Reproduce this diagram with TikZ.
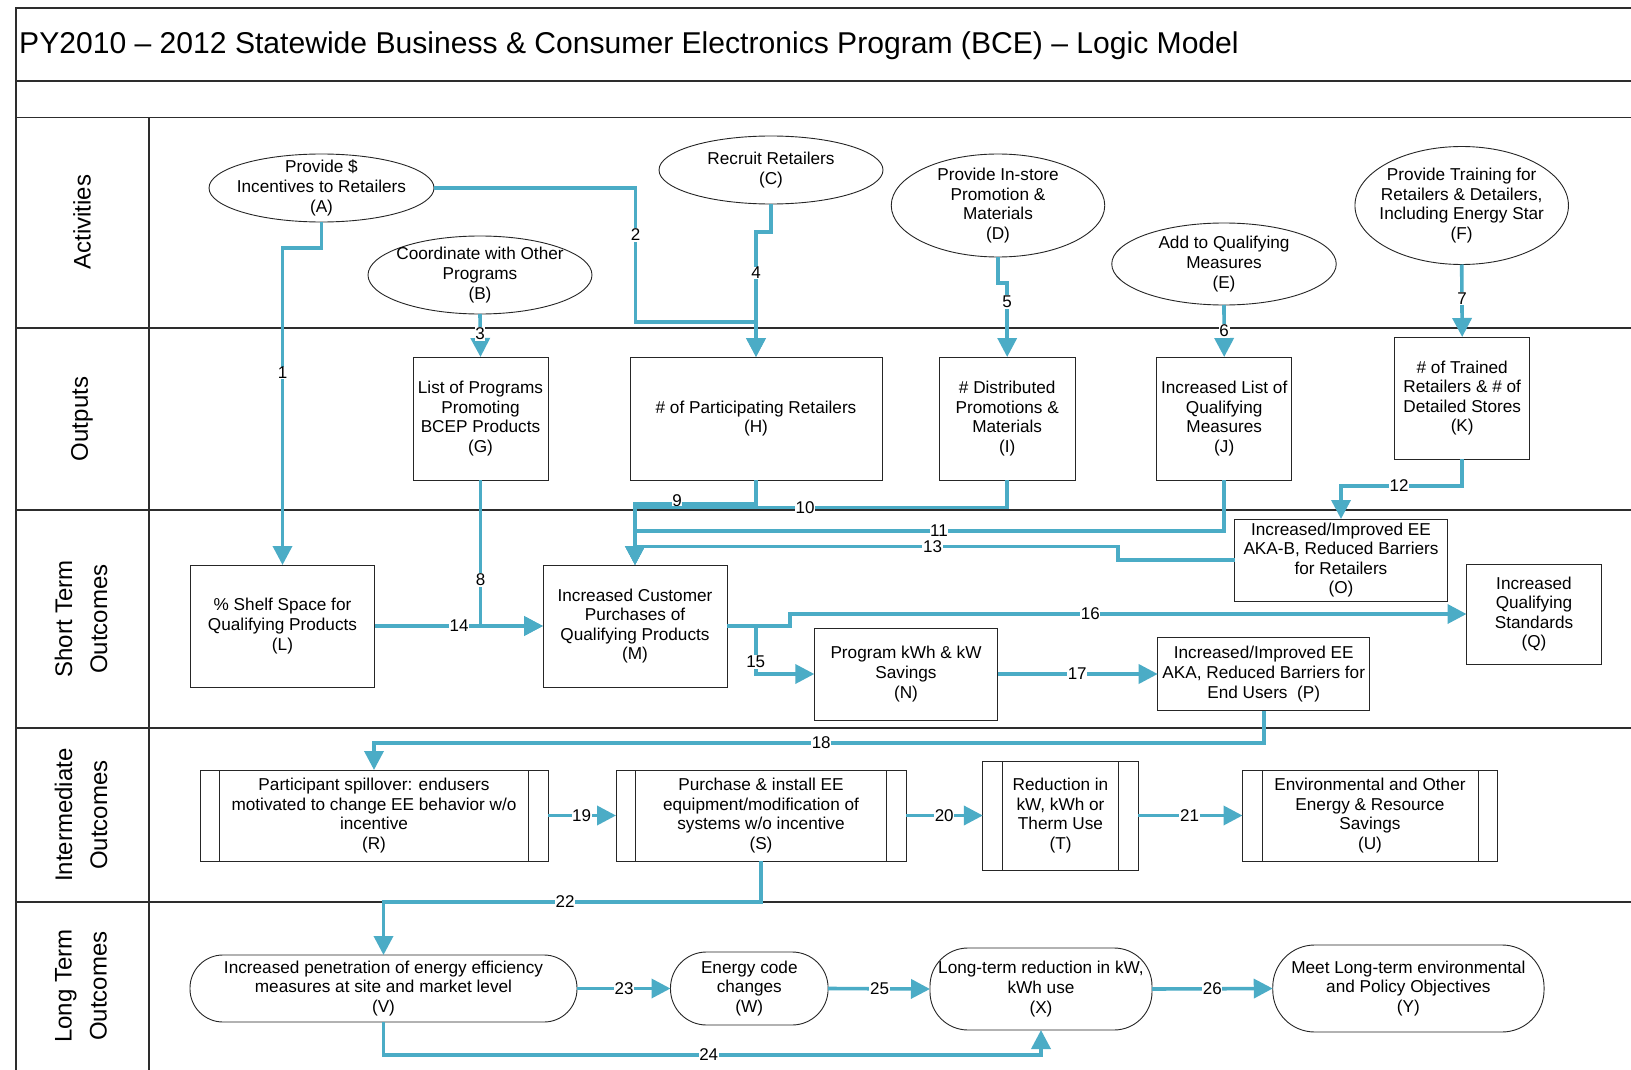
\documentclass[tikz,border=0pt]{standalone}
\usepackage{fontspec}
\setmainfont{Liberation Sans}
\usetikzlibrary{arrows.meta,shapes.geometric}
\definecolor{connc}{RGB}{75,172,198}
\definecolor{framec}{RGB}{45,45,45}
\newcommand{\boxtxtfont}{\fontsize{17.2}{19.6}\selectfont}
\newcommand{\lanetxtfont}{\fontsize{24}{35}\selectfont}
\newcommand{\lbltxtfont}{\fontsize{17}{17}\selectfont}
\begin{document}
\begin{tikzpicture}[x=1pt,y=-1pt,
  frameline/.style={draw=framec,line width=1.6pt},
  boxnode/.style={rectangle,draw=black!85,line width=0.9pt,align=center,inner sep=1pt,outer sep=0pt,font=\boxtxtfont},
  ellnode/.style={ellipse,draw=black!85,line width=0.9pt,inner sep=0pt,outer sep=0pt},
  stadium/.style={rectangle,draw=black!85,line width=0.9pt,align=center,inner sep=1pt,outer sep=0pt,font=\boxtxtfont},
  txtnode/.style={align=center,inner sep=0pt,font=\boxtxtfont},
  lanenode/.style={align=center,inner sep=0pt,font=\lanetxtfont,rotate=90},
  conn/.style={draw=connc,line width=3.6pt,-{Triangle[length=19pt,width=19pt]},line join=miter},
  lbl/.style={fill=white,inner sep=0.6pt,font=\lbltxtfont}
]
\useasboundingbox (0,0) rectangle (1631,1070);
\fill[white] (0,0) rectangle (1631,1070);

% frame
\draw[frameline] (16,1080) -- (16,8) -- (1640,8);
\draw[frameline] (16,81) -- (1640,81);
\draw[frameline] (16,117.5) -- (1640,117.5);
\draw[frameline] (16,327.7) -- (1640,327.7);
\draw[frameline] (16,509.7) -- (1640,509.7);
\draw[frameline] (16,728) -- (1640,728);
\draw[frameline] (16,902) -- (1640,902);
\draw[draw=framec,line width=1.1pt] (149,117.5) -- (149,1080);

% title
\node[anchor=west,inner sep=0pt,font=\fontsize{30.1}{33}\selectfont] (title) at (19,45.5) {PY2010 -- 2012 Statewide Business \& Consumer Electronics Program (BCE) -- Logic Model};

% lane labels
\node[lanenode] (laneA) at (82,222) {Activities};
\node[lanenode] (laneO) at (82,419) {Outputs};
\node[lanenode] (laneS) at (81,619) {Short Term\\Outcomes};
\node[lanenode] (laneI) at (81,815) {Intermediate\\Outcomes};
\node[lanenode] (laneL) at (81,986) {Long Term\\Outcomes};

% activities (ellipses)
\node[ellnode,minimum width=225pt,minimum height=68pt] (A) at (321.5,188) {};
\node[txtnode] (At) at (A.center) {Provide \$\\Incentives to Retailers\\(A)};
\node[ellnode,minimum width=224pt,minimum height=78pt] (B) at (480,275) {};
\node[txtnode] (Bt) at (B.center) {Coordinate with Other\\Programs\\(B)};
\node[ellnode,minimum width=224pt,minimum height=68pt] (C) at (771,170) {};
\node[txtnode] (Ct) at (C.center) {Recruit Retailers\\(C)};
\node[ellnode,minimum width=213.5pt,minimum height=103pt] (D) at (998,205.5) {};
\node[txtnode] (Dt) at (D.center) {Provide In-store\\Promotion \&\\Materials\\(D)};
\node[ellnode,minimum width=224.5pt,minimum height=82pt] (E) at (1224,264) {};
\node[txtnode] (Et) at (E.center) {Add to Qualifying\\Measures\\(E)};
\node[ellnode,minimum width=213.5pt,minimum height=118pt] (F) at (1461.7,205.5) {};
\node[txtnode] (Ft) at (F.center) {Provide Training for\\Retailers \& Detailers,\\Including Energy Star\\(F)};

% outputs
\node[boxnode,minimum width=135pt,minimum height=123pt] (G) at (480.5,418.5) {List of Programs\\Promoting\\BCEP Products\\(G)};
\node[boxnode,minimum width=252pt,minimum height=123pt] (H) at (756,418.5) {\# of Participating Retailers\\(H)};
\node[boxnode,minimum width=135.6pt,minimum height=123pt] (I) at (1007.2,418.5) {\# Distributed\\Promotions \&\\Materials\\(I)};
\node[boxnode,minimum width=135pt,minimum height=123pt] (J) at (1224.2,418.5) {Increased List of\\Qualifying\\Measures\\(J)};
\node[boxnode,minimum width=135pt,minimum height=122pt] (K) at (1462.2,398) {\# of Trained\\Retailers \& \# of\\Detailed Stores\\(K)};

% short term outcomes
\node[boxnode,minimum width=184pt,minimum height=122pt] (L) at (282.5,626) {\% Shelf Space for\\Qualifying Products\\(L)};
\node[boxnode,minimum width=184pt,minimum height=122pt] (M) at (635,626) {Increased Customer\\Purchases of\\Qualifying Products\\(M)};
\node[boxnode,minimum width=183.4pt,minimum height=92pt] (N) at (906,674) {Program kWh \& kW\\Savings\\(N)};
\node[boxnode,minimum width=213pt,minimum height=82pt] (O) at (1341,560) {Increased/Improved EE\\AKA-B, Reduced Barriers\\for Retailers\\(O)};
\node[boxnode,minimum width=212pt,minimum height=73pt] (P) at (1263.7,674) {Increased/Improved EE\\AKA, Reduced Barriers for\\End Users~~(P)};
\node[boxnode,minimum width=135pt,minimum height=100pt] (Q) at (1534,614) {Increased\\Qualifying\\Standards\\(Q)};

% intermediate outcomes
\node[boxnode,minimum width=348pt,minimum height=91pt] (R) at (374,815.5) {Participant spillover: endusers\\motivated to change EE behavior w/o\\incentive\\(R)};
\node[boxnode,minimum width=290pt,minimum height=91pt] (S) at (761,815.5) {Purchase \& install EE\\equipment/modification of\\systems w/o incentive\\(S)};
\node[boxnode,minimum width=155.3pt,minimum height=109pt] (T) at (1060.5,815.5) {Reduction in\\kW, kWh or\\Therm Use\\(T)};
\node[boxnode,minimum width=255pt,minimum height=91pt] (U) at (1370,815.5) {Environmental and Other\\Energy \& Resource\\Savings\\(U)};
\foreach \n/\d in {R/19.5,S/19.5,T/20,U/19.5}{
  \draw[black!85,line width=0.9pt] ([xshift=\d pt]\n.north west) -- ([xshift=\d pt]\n.south west);
  \draw[black!85,line width=0.9pt] ([xshift=-\d pt]\n.north east) -- ([xshift=-\d pt]\n.south east);
}

% long term outcomes
\node[stadium,minimum width=387pt,minimum height=67pt,rounded corners=33pt] (V) at (383.5,988.5) {Increased penetration of energy efficiency\\measures at site and market level\\(V)};
\node[stadium,minimum width=157.6pt,minimum height=73pt,rounded corners=36pt] (W) at (749.3,988.5) {Energy code\\changes\\(W)};
\node[stadium,minimum width=222pt,minimum height=82pt,rounded corners=38pt] (X) at (1041,989) {Long-term reduction in kW,\\kWh use\\(X)};
\node[stadium,minimum width=271.3pt,minimum height=87pt,rounded corners=42pt] (Y) at (1408.4,988.5) {Meet Long-term environmental\\and Policy Objectives\\(Y)};

% connectors
\draw[conn] (A.south) -- (321.5,248) -- (282.5,248) -- (L.north);
\draw[conn] (A.east) -- (635.5,188) -- (635.5,322) -- (756,322) -- (H.north);
\draw[conn] (B.south) -- (G.north);
\draw[conn] (C.south) -- (771,232) -- (756,232) -- (H.north);
\draw[conn] (D.south) -- (998,283) -- (1007.2,283) -- (I.north);
\draw[conn] (E.south) -- (J.north);
\draw[conn] (F.south) -- (K.north);
\draw[conn] (G.south) -- (480.5,626) -- (M.west);
\draw[conn] (L.east) -- (M.west);
\draw[conn] (H.south) -- (756,504) -- (635,504) -- (M.north);
\node[lbl] (l9) at (677,501) {9};
\draw[conn] (I.south) -- (1007.2,507.5) -- (635,507.5) -- (M.north);
\draw[conn] (J.south) -- (1224.2,531) -- (635,531) -- (M.north);
\draw[conn] (O.west) -- (1118,560) -- (1118,546.5) -- (635,546.5) -- (M.north);
\draw[conn] (K.south) -- (1462.2,486) -- (1341,486) -- (O.north);
\draw[conn] (M.east) -- (790,626) -- (790,614) -- (Q.west);
\coordinate (j15) at (755.7,626);
\draw[conn] (j15) -- (755.7,674) -- (N.west);
\draw[conn] (N.east) -- (P.west);
\draw[conn] (P.south) -- (1263.7,743) -- (374,743) -- (R.north);
\draw[conn] (R.east) -- (S.west);
\draw[conn] (S.east) -- (T.west);
\draw[conn] (T.east) -- (U.west);
\draw[conn] (S.south) -- (761,902) -- (383.5,902) -- (V.north);
\draw[conn] (V.east) -- (W.west);
\draw[conn] (V.south) -- (383.5,1055) -- (1041,1055) -- (X.south);
\draw[conn] (W.east) -- (X.west);
\draw[conn] (X.east) -- (Y.west);

% connector labels
\node[lbl] (l1) at (282.5,373) {1};
\node[lbl] (l2) at (635.5,235) {2};
\node[lbl] (l3) at (480,334) {3};
\node[lbl] (l4) at (756,273) {4};
\node[lbl] (l5) at (1007.2,302) {5};
\node[lbl] (l6) at (1224.2,331) {6};
\node[lbl] (l7) at (1462,298.5) {7};
\node[lbl] (l8) at (480.5,580) {8};
\node[lbl] (l10) at (805,507.5) {10};
\node[lbl] (l11) at (939,531) {11};
\node[lbl] (l12) at (1399,486) {12};
\node[lbl] (l13) at (932.5,546.5) {13};
\node[lbl] (l14) at (459,625.5) {14};
\node[lbl] (l15) at (755.7,662) {15};
\node[lbl] (l16) at (1090.4,614) {16};
\node[lbl] (l17) at (1077.2,674) {17};
\node[lbl] (l18) at (821.2,743) {18};
\node[lbl] (l19) at (581.6,815.5) {19};
\node[lbl] (l20) at (944.2,815.5) {20};
\node[lbl] (l21) at (1189.5,815.5) {21};
\node[lbl] (l22) at (565,902) {22};
\node[lbl] (l23) at (624,988.5) {23};
\node[lbl] (l24) at (708.7,1055) {24};
\node[lbl] (l25) at (879.5,988.5) {25};
\node[lbl] (l26) at (1212.3,988.5) {26};
\end{tikzpicture}
\end{document}
